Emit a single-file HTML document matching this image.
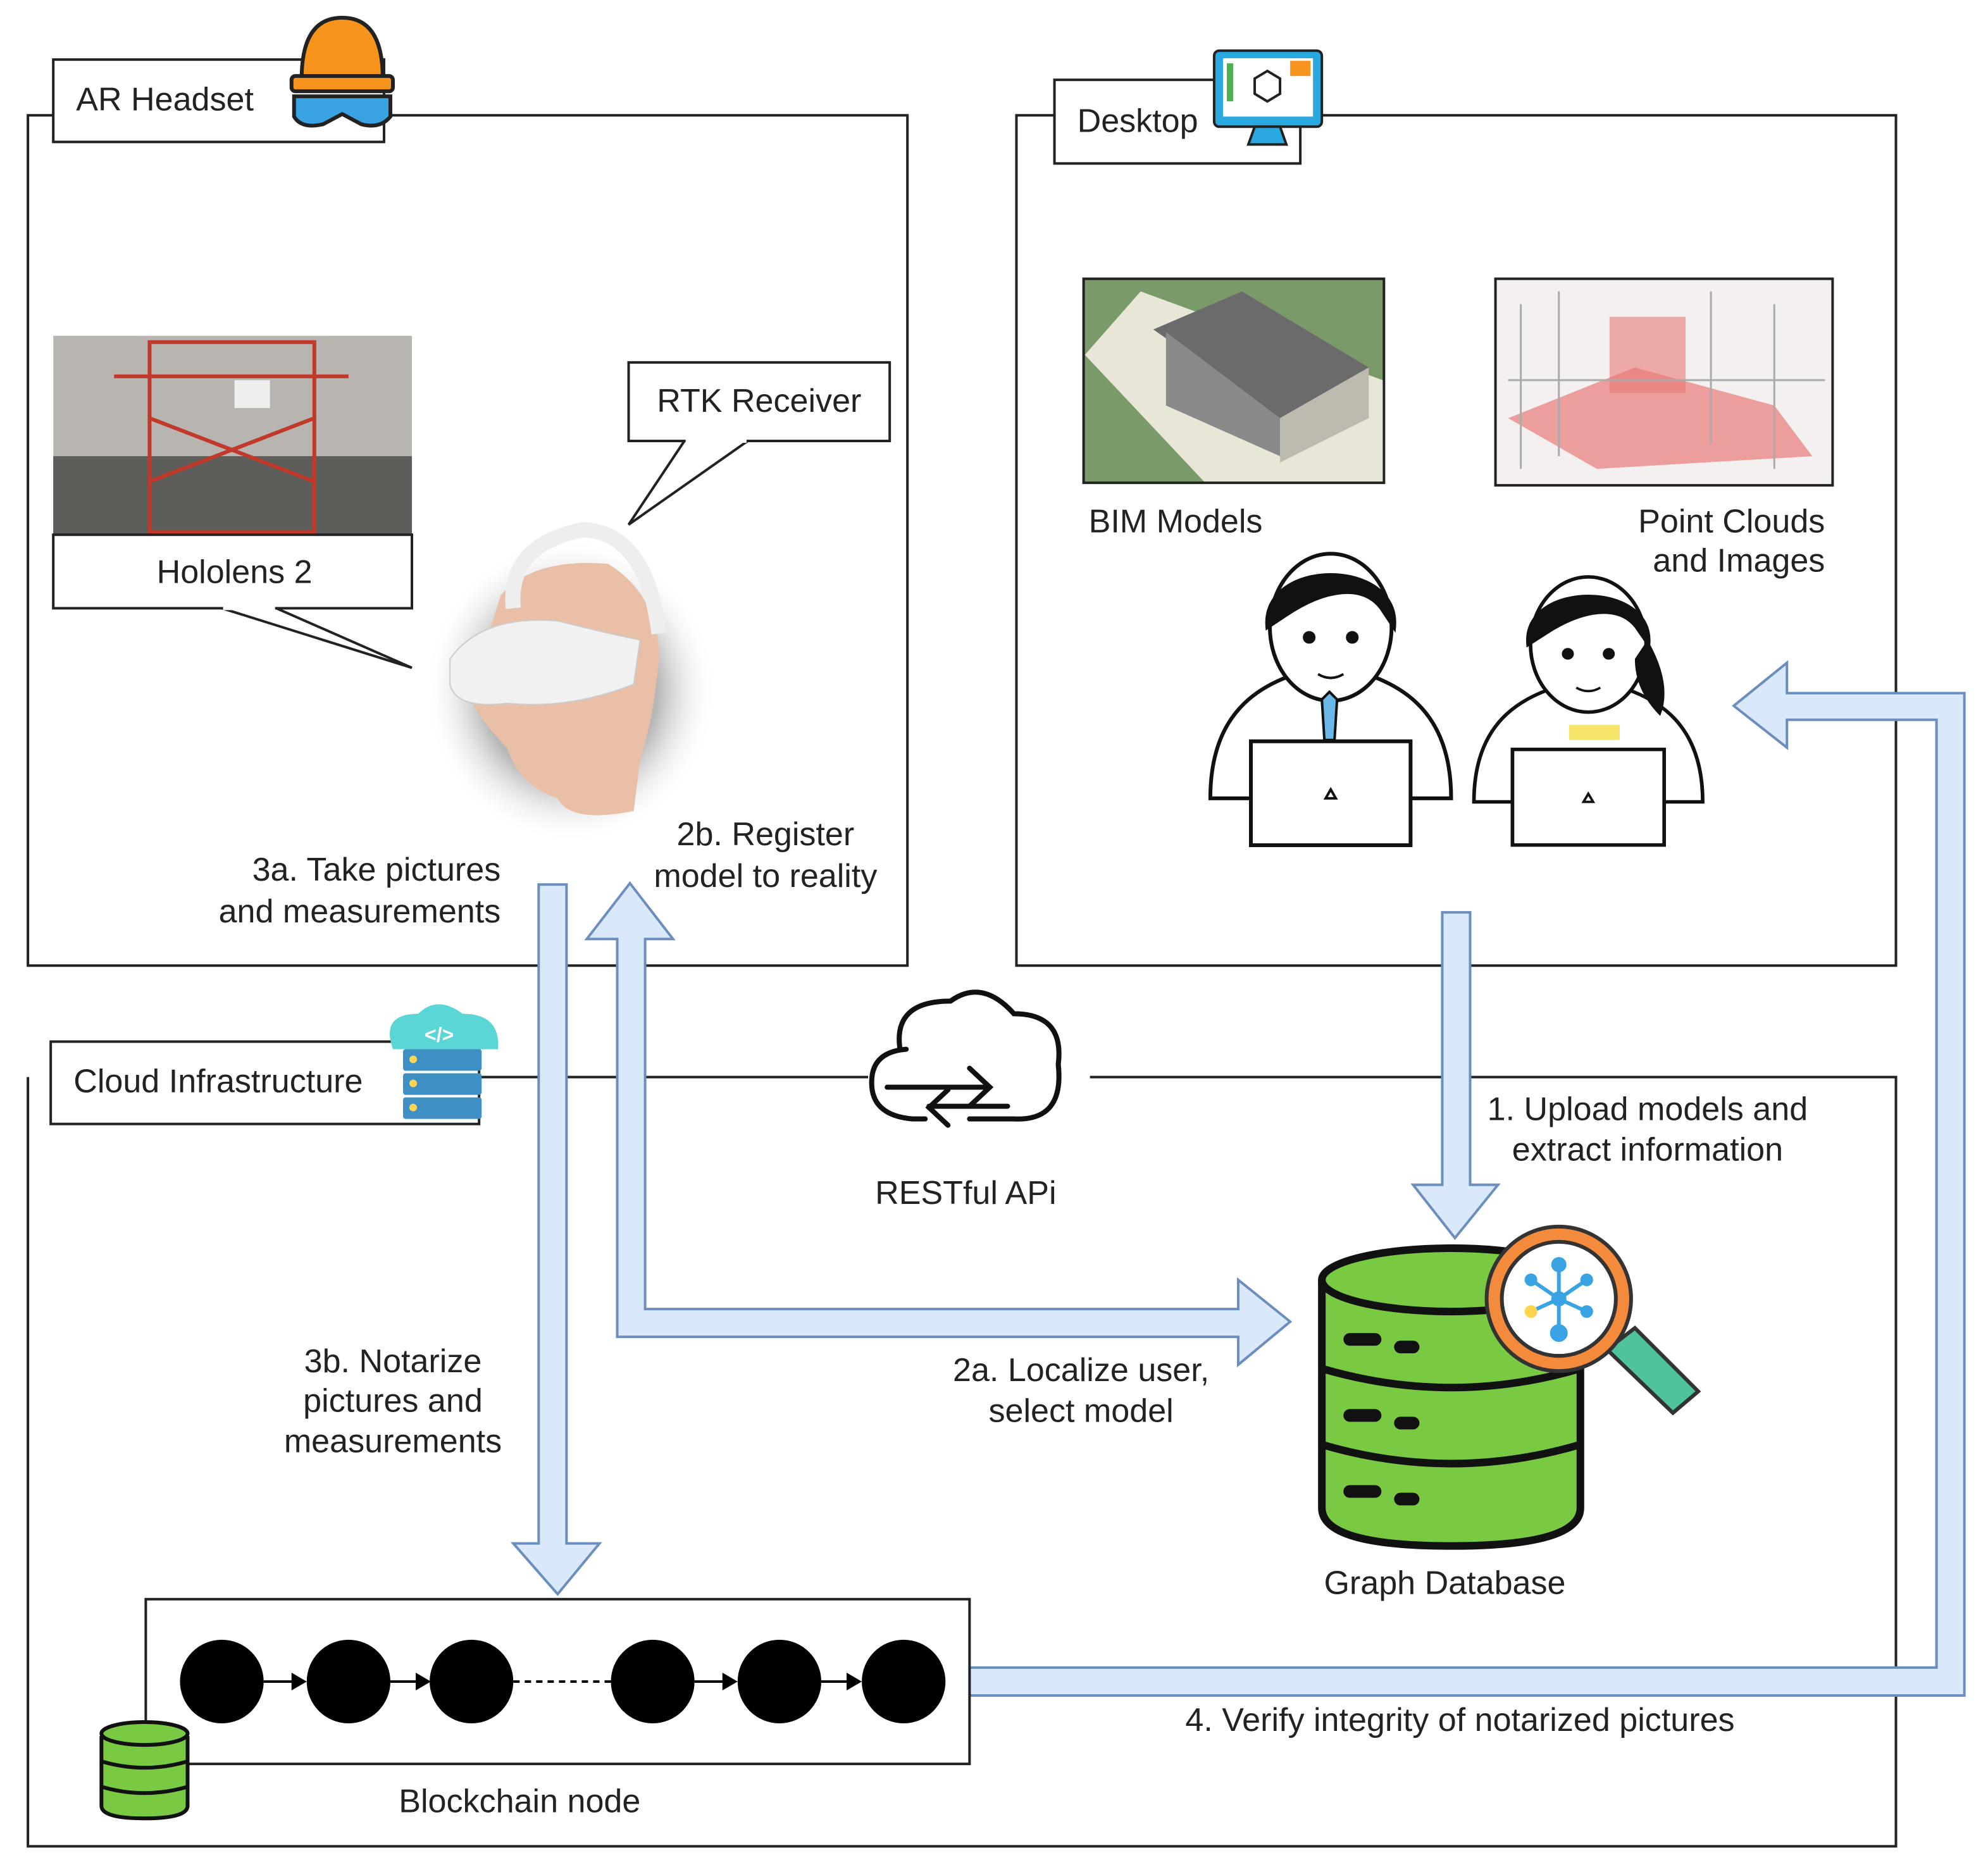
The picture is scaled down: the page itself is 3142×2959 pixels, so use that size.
<!DOCTYPE html>
<html><head><meta charset="utf-8"><style>
html,body{margin:0;padding:0;background:#fff;}
svg{display:block;}
text{font-family:"Liberation Sans",sans-serif;font-size:26px;fill:#222;}
</style></head><body>
<svg width="3142" height="2959" viewBox="0 0 1568.6 1477.3" xmlns="http://www.w3.org/2000/svg">
<defs>
<radialGradient id="sh" cx="0.5" cy="0.5" r="0.5"><stop offset="0.6" stop-color="#888" stop-opacity="0.6"/><stop offset="1" stop-color="#fff" stop-opacity="0"/></radialGradient>
<g id="person" stroke="#111" stroke-width="3" fill="#fff">
<path d="M0,190 C0,120 40,95 95,85 C150,95 190,120 190,190 Z"/>
<ellipse cx="95" cy="55" rx="48" ry="58"/>
<path d="M45,55 C40,0 150,0 145,55 L135,40 C120,20 90,25 60,45 Z" fill="#111"/>
<circle cx="78" cy="63" r="3.5" fill="#111"/><circle cx="112" cy="63" r="3.5" fill="#111"/>
<path d="M85,92 Q95,98 105,92" fill="none" stroke-width="2"/>
<rect x="32" y="145" width="126" height="82"/>
<path d="M91,190 l4,-7 l4,7 z" stroke-width="2"/>
</g>
</defs>

<g fill="none" stroke="#222" stroke-width="2">
<rect x="22" y="91" width="694" height="671"/>
<rect x="802" y="91" width="694" height="671"/>
<path d="M22,850 V1457 H1496 V850 H860 M685,850 H378"/>
</g>
<g fill="#fff" stroke="#222" stroke-width="2">
<rect x="42" y="47" width="261" height="65"/>
<rect x="832" y="63" width="194" height="66"/>
<rect x="40" y="822" width="338" height="65"/>
</g>
<text x="60" y="87">AR Headset</text>
<text x="850" y="104">Desktop</text>
<text x="58" y="862">Cloud Infrastructure</text>

<path d="M238,62 Q238,14 270,14 Q302,14 302,62 Z" fill="#f7941d" stroke="#222" stroke-width="3"/>
<rect x="230" y="60" width="80" height="12" rx="3" fill="#f7941d" stroke="#222" stroke-width="3"/>
<path d="M232,76 H308 V92 Q300,102 285,98 L270,90 L255,98 Q238,102 232,92 Z" fill="#3aa3e3" stroke="#222" stroke-width="3"/>
<rect x="958" y="40" width="85" height="60" rx="4" fill="#29a9e0" stroke="#222" stroke-width="2"/>
<rect x="965" y="46" width="71" height="46" fill="#fff"/>
<rect x="1018" y="48" width="16" height="12" fill="#f7941d"/>
<path d="M990,62 l10,-6 l10,6 v12 l-10,6 l-10,-6z" fill="none" stroke="#222" stroke-width="2"/>
<rect x="968" y="50" width="5" height="30" fill="#4caf50"/>
<path d="M990,100 h20 l5,14 h-30z" fill="#29a9e0" stroke="#222" stroke-width="2"/>
<path d="M310,828 Q300,800 330,800 Q345,785 365,800 Q395,800 393,828 Z" fill="#5bd6d6"/>
<text x="335" y="822" style="font-size:16px;fill:#fff;font-weight:bold">&lt;/&gt;</text>
<rect x="318" y="828" width="62" height="17" rx="2" fill="#3d8fc4"/>
<rect x="318" y="847" width="62" height="17" rx="2" fill="#3d8fc4"/>
<rect x="318" y="866" width="62" height="17" rx="2" fill="#3d8fc4"/>
<circle cx="326" cy="836" r="3" fill="#ffd54f"/><circle cx="326" cy="855" r="3" fill="#ffd54f"/><circle cx="326" cy="874" r="3" fill="#ffd54f"/>

<rect x="42" y="265" width="283" height="157" fill="#b8b5b0"/>
<rect x="42" y="360" width="283" height="62" fill="#5d5d5a"/>
<g stroke="#c0392b" stroke-width="3" fill="none"><rect x="118" y="270" width="130" height="150"/><path d="M118,330 L248,380 M248,330 L118,380 M90,297 H275"/></g>
<rect x="185" y="300" width="28" height="22" fill="#eee"/>
<path d="M175,480 L325,527 L218,480" fill="#fff" stroke="#222" stroke-width="2"/>
<rect x="42" y="422" width="283" height="58" fill="#fff" stroke="#222" stroke-width="2"/>
<line x1="176" y1="480" x2="217" y2="480" stroke="#fff" stroke-width="3"/>
<text x="185" y="460" text-anchor="middle">Hololens 2</text>

<path d="M540,348 L496,414 L590,348" fill="#fff" stroke="#222" stroke-width="2"/>
<rect x="496" y="286" width="206" height="62" fill="#fff" stroke="#222" stroke-width="2"/>
<line x1="541" y1="348" x2="589" y2="348" stroke="#fff" stroke-width="3"/>
<text x="599" y="325" text-anchor="middle">RTK Receiver</text>

<ellipse cx="450" cy="545" rx="115" ry="120" fill="url(#sh)"/>
<path d="M395,470 Q420,440 480,445 Q520,470 520,520 Q515,570 505,600 L500,640 Q450,650 440,630 Q410,620 400,590 Q380,570 370,550 Z" fill="#e9bfa8"/>
<path d="M355,520 Q380,485 440,490 Q480,500 505,505 L500,540 Q450,560 400,555 Q360,560 355,540 Z" fill="#f1f1f1" stroke="#ccc"/>
<path d="M405,480 Q400,430 460,418 Q510,420 520,500" fill="none" stroke="#eee" stroke-width="12"/>

<text x="395" y="695" text-anchor="end">3a. Take pictures</text>
<text x="395" y="728" text-anchor="end">and measurements</text>
<text x="604" y="667" text-anchor="middle">2b. Register</text>
<text x="604" y="700" text-anchor="middle">model to reality</text>

<rect x="855" y="220" width="237" height="161" fill="#7a9a6a" stroke="#222" stroke-width="2"/>
<path d="M856,280 L900,230 L1091,300 L1091,380 L950,380 Z" fill="#e8e6d6"/>
<path d="M910,260 L980,230 L1080,290 L1010,330 Z" fill="#6b6b6b"/>
<path d="M920,262 V320 L1010,360 V330 Z" fill="#8a8a8a"/>
<path d="M1010,330 L1080,290 V330 L1010,365 Z" fill="#bfbab0"/>
<text x="859" y="420">BIM Models</text>
<rect x="1180" y="220" width="266" height="163" fill="#f4f0f0" stroke="#222" stroke-width="2"/>
<path d="M1190,330 L1290,290 L1400,320 L1430,360 L1260,370 Z" fill="#e88a86" opacity="0.8"/>
<rect x="1270" y="250" width="60" height="60" fill="#e87a76" opacity="0.6"/>
<g stroke="#aaa" stroke-width="1.5"><path d="M1200,240 V370 M1230,230 V360 M1350,230 V350 M1400,240 V370 M1190,300 H1440"/></g>
<text x="1440" y="420" text-anchor="end">Point Clouds</text>
<text x="1440" y="451" text-anchor="end">and Images</text>

<use href="#person" transform="translate(955,440)"/>
<path d="M1043,552 l6,-6 l6,6 l-2,32 h-8 z" fill="#6ab7e8" stroke="#111" stroke-width="2"/>
<use href="#person" transform="translate(1163,458) scale(0.95,0.92)"/>
<path d="M1300,505 Q1320,540 1310,565 Q1290,545 1290,520z" fill="#111"/>
<rect x="1238" y="572" width="40" height="12" fill="#f5e66b"/>

<g fill="#dae8fc" stroke="#6c8ebf" stroke-width="2">
<path d="M1138,720 H1160 V935 H1182 L1148,977 L1115,935 H1138 Z"/>
<path d="M425,698 H447 V1218 H473 L440,1258 L405,1218 H425 Z"/>
<path d="M487,741 H463 L497,697 L531,741 H509 V1033 H977 V1010 L1018,1043 L977,1077 V1055 H487 Z"/>
<path d="M765,1316 H1528 V568 H1410 V590 L1368,557 L1410,523 V547 H1550 V1338 H765 Z"/>
</g>

<g fill="none" stroke="#111" stroke-width="4" stroke-linecap="round">
<path d="M710,827 Q705,790 750,790 Q775,772 800,800 Q840,800 835,840 Q840,885 800,883 H765 M730,883 H720 Q685,880 688,850 Q690,830 715,828"/>
<path d="M700,858 H780 M765,843 L781,858 L765,873"/>
<path d="M795,873 H733 M748,860 L733,874 L748,888"/>
</g>
<text x="762" y="950" text-anchor="middle">RESTful APi</text>

<text x="1300" y="884" text-anchor="middle">1. Upload models and</text>
<text x="1300" y="916" text-anchor="middle">extract information</text>

<g stroke="#111" stroke-width="6">
<path d="M1043,1010 V1190 Q1043,1220 1145,1220 Q1247,1220 1247,1190 V1010" fill="#7ac943"/>
<ellipse cx="1145" cy="1010" rx="102" ry="25" fill="#7ac943"/>
<path d="M1043,1080 Q1145,1110 1247,1080 M1043,1140 Q1145,1170 1247,1140" fill="none"/>
</g>
<g fill="#111"><rect x="1060" y="1052" width="30" height="10" rx="5"/><rect x="1100" y="1058" width="20" height="10" rx="5"/><rect x="1060" y="1112" width="30" height="10" rx="5"/><rect x="1100" y="1118" width="20" height="10" rx="5"/><rect x="1060" y="1172" width="30" height="10" rx="5"/><rect x="1100" y="1178" width="20" height="10" rx="5"/></g>
<path d="M1268,1065 L1320,1115 L1340,1098 L1290,1048 Z" fill="#4fc39b" stroke="#333" stroke-width="3"/>
<circle cx="1230" cy="1025" r="57" fill="#f48a3c" stroke="#333" stroke-width="3"/>
<circle cx="1230" cy="1025" r="45" fill="#fff" stroke="#333" stroke-width="3"/>
<g stroke="#3aa3e3" stroke-width="3"><path d="M1230,1025 L1230,998 M1230,1025 L1208,1010 M1230,1025 L1252,1010 M1230,1025 L1208,1035 M1230,1025 L1252,1035 M1230,1025 L1230,1052"/></g>
<g fill="#3aa3e3"><circle cx="1230" cy="998" r="6"/><circle cx="1208" cy="1010" r="5"/><circle cx="1252" cy="1010" r="5"/><circle cx="1208" cy="1035" r="5" fill="#ffd54f"/><circle cx="1252" cy="1035" r="5"/><circle cx="1230" cy="1052" r="7"/><circle cx="1230" cy="1025" r="6"/></g>
<text x="1140" y="1258" text-anchor="middle">Graph Database</text>

<text x="853" y="1090" text-anchor="middle">2a. Localize user,</text>
<text x="853" y="1122" text-anchor="middle">select model</text>
<text x="310" y="1083" text-anchor="middle">3b. Notarize</text>
<text x="310" y="1114" text-anchor="middle">pictures and</text>
<text x="310" y="1146" text-anchor="middle">measurements</text>

<rect x="115" y="1262" width="650" height="130" fill="#fff" stroke="#222" stroke-width="2"/>
<g fill="#000"><circle cx="175" cy="1327" r="33"/><circle cx="275" cy="1327" r="33"/><circle cx="372" cy="1327" r="33"/><circle cx="515" cy="1327" r="33"/><circle cx="615" cy="1327" r="33"/><circle cx="713" cy="1327" r="33"/></g>
<g stroke="#000" stroke-width="2"><path d="M208,1327 H232 M308,1327 H330 M548,1327 H572 M648,1327 H670"/><path d="M405,1327 H482" stroke-dasharray="5,4"/></g>
<g fill="#000"><path d="M242,1327 l-12,-7 v14z"/><path d="M340,1327 l-12,-7 v14z"/><path d="M582,1327 l-12,-7 v14z"/><path d="M680,1327 l-12,-7 v14z"/></g>
<g stroke="#111" stroke-width="3" fill="#7ac943">
<path d="M80,1370 V1425 Q80,1435 114,1435 Q148,1435 148,1425 V1370"/>
<ellipse cx="114" cy="1368" rx="34" ry="9"/>
<path d="M80,1390 Q114,1400 148,1390 M80,1410 Q114,1420 148,1410" fill="none"/>
</g>
<text x="410" y="1430" text-anchor="middle">Blockchain node</text>
<text x="1152" y="1366" text-anchor="middle">4. Verify integrity of notarized pictures</text>
</svg>
</body></html>
